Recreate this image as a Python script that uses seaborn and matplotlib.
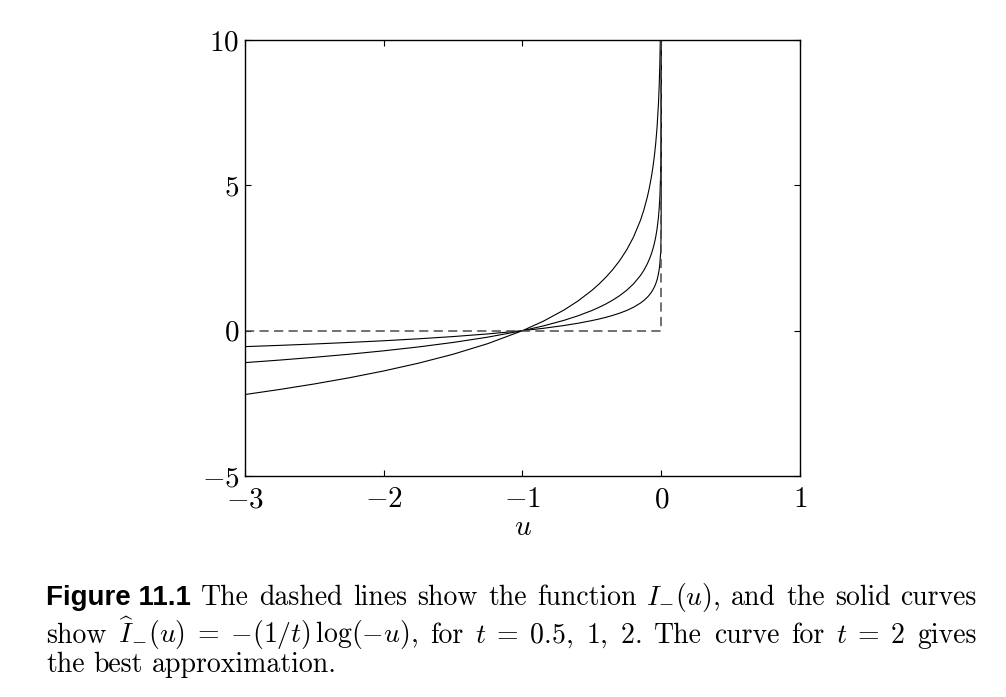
import numpy as np
import pandas as pd
import seaborn as sns
import matplotlib.pyplot as plt
from matplotlib.ticker import FuncFormatter

# ---- data ----
u = [-3, -2.75, -2.5, -2.25, -2, -1.75, -1.5, -1.25, -1, -0.85, -0.7, -0.6, -0.5,
     -0.45, -0.4, -0.35, -0.3, -0.25, -0.2, -0.15, -0.125, -0.1, -0.085, -0.07,
     -0.06, -0.05, -0.04, -0.03, -0.02, -0.015, -0.01, -0.005, -0.002, -0.001,
     -1e-4, -1e-5, -1e-6, -1e-8, -1e-10]
# solid curves, t = 0.5, 1, 2
y_t05 = [-2.197, -2.023, -1.833, -1.622, -1.386, -1.119, -0.811, -0.446, 0, 0.325,
         0.713, 1.022, 1.386, 1.597, 1.833, 2.100, 2.408, 2.773, 3.219, 3.794, 4.159,
         4.605, 4.930, 5.319, 5.627, 5.991, 6.438, 7.013, 7.824, 8.399, 9.210, 10.597,
         12.429, 13.816, 18.421, 23.026, 27.631, 36.841, 46.052]
y_t1 = [-1.099, -1.012, -0.916, -0.811, -0.693, -0.560, -0.405, -0.223, 0, 0.163,
        0.357, 0.511, 0.693, 0.799, 0.916, 1.050, 1.204, 1.386, 1.609, 1.897, 2.079,
        2.303, 2.465, 2.659, 2.813, 2.996, 3.219, 3.507, 3.912, 4.200, 4.605, 5.298,
        6.215, 6.908, 9.210, 11.513, 13.816, 18.421, 23.026]
y_t2 = [-0.549, -0.506, -0.458, -0.405, -0.347, -0.280, -0.203, -0.112, 0, 0.081,
        0.178, 0.255, 0.347, 0.399, 0.458, 0.525, 0.602, 0.693, 0.805, 0.949, 1.040,
        1.151, 1.233, 1.330, 1.407, 1.498, 1.609, 1.753, 1.956, 2.100, 2.303, 2.649,
        3.107, 3.454, 4.605, 5.756, 6.908, 9.210, 11.513]
# dashed indicator function I_-(u)
dash_u = [-3, 0, 0]
dash_y = [0, 0, 10]

xticks = [-3, -2, -1, 0, 1]
yticks = [-5, 0, 5, 10]

W, H = 1006, 697

sns.set_theme(style='ticks')
plt.rcParams['font.family'] = ['cmr10', 'DejaVu Serif']
plt.rcParams['mathtext.fontset'] = 'cm'
plt.rcParams['axes.formatter.use_mathtext'] = True
for k in ['text.color', 'axes.labelcolor', 'xtick.color', 'ytick.color', 'axes.edgecolor']:
    plt.rcParams[k] = 'black'

fig = plt.figure(figsize=(W / 100, H / 100), dpi=100)
ax = fig.add_axes([245 / W, 1 - 476 / H, 555 / W, 436 / H])

for ys in (y_t05, y_t1, y_t2):
    sns.lineplot(x=u, y=ys, ax=ax, color='black', lw=0.8, estimator=None, sort=False)
sns.lineplot(x=dash_u, y=dash_y, ax=ax, color='#4a4a4a', lw=1.1,
             linestyle=(0, (6, 3.5)), estimator=None, sort=False)

ax.set_xlim(-3, 1)
ax.set_ylim(-5, 10)
ax.set_xticks(xticks)
ax.set_yticks(yticks)
fmt = FuncFormatter(lambda v, p: f'${v:g}$')
ax.xaxis.set_major_formatter(fmt)
ax.yaxis.set_major_formatter(fmt)
ax.tick_params(direction='in', length=4.3, width=0.8, top=True, right=True,
               labelsize=21)
ax.tick_params(axis='x', pad=8)
ax.tick_params(axis='y', pad=4)
for sp in ax.spines.values():
    sp.set_linewidth(1.0)
    sp.set_color('black')
ax.set_xlabel('$u$', fontsize=21, labelpad=1)

# ---- caption, justified like the book ----
cap_size = 20


def place_line(tokens, base_y, x0, x1=None):
    texts = []
    for tok, kw in tokens:
        texts.append(fig.text(0, 1 - base_y / H, tok, va='baseline', ha='left',
                              fontsize=cap_size, **kw))
    r = fig.canvas.get_renderer()
    widths = [t.get_window_extent(r).width for t in texts]
    if x1 is None:
        gap = 0.33 * cap_size * 100 / 72
    else:
        gap = (x1 - x0 - sum(widths)) / (len(texts) - 1)
    x = x0
    for t, w in zip(texts, widths):
        t.set_x(x / W)
        x += w + gap


rm = {'family': 'cmr10'}
bold = {'family': 'Liberation Sans', 'weight': 'bold'}

line1 = [('Figure 11.1', bold), ('The', rm), ('dashed', rm), ('lines', rm), ('show', rm),
         ('the', rm), ('function', rm), (r'$I_{-}(u)$,', rm), ('and', rm), ('the', rm),
         ('solid', rm), ('curves', rm)]
line2 = [('show', rm), (r'$\widehat{I}_{-}(u)\;=\;{-}(1/t)\,\log(-u)$,', rm), ('for', rm),
         (r'$t\;=\;0.5,\ 1,\ 2$.', rm), ('The', rm), ('curve', rm), ('for', rm),
         (r'$t\;=\;2$', rm), ('gives', rm)]
line3 = [('the', rm), ('best', rm), ('approximation.', rm)]

place_line(line1, 605, 46, 977)
place_line(line2, 643, 46, 977)
place_line(line3, 672, 46)

fig.savefig('out.png', dpi=100)
